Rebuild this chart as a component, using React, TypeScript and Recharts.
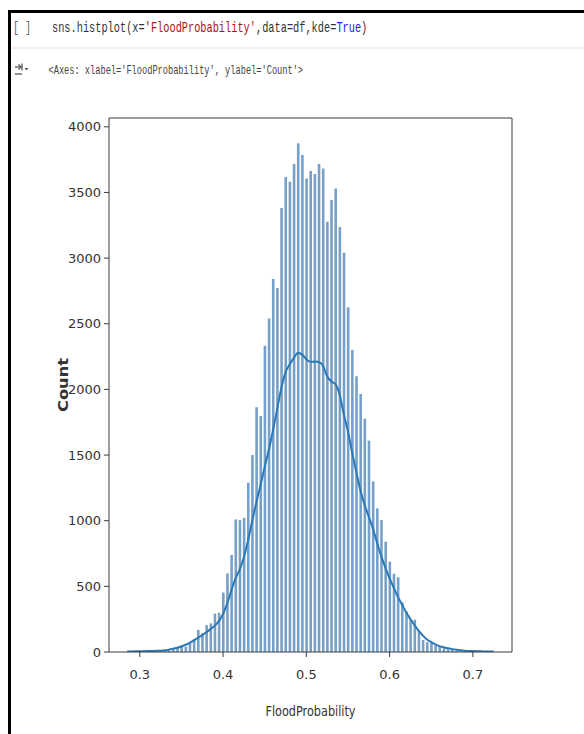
import React from 'react';
import { ComposedChart, Bar, Line, XAxis, YAxis, ReferenceLine } from 'recharts';

const PROB = [
  0.285, 0.29, 0.295, 0.3, 0.305, 0.31, 0.315, 0.32, 0.325, 0.33,
  0.335, 0.34, 0.345, 0.35, 0.355, 0.36, 0.365, 0.37, 0.375, 0.38,
  0.385, 0.39, 0.395, 0.4, 0.405, 0.41, 0.415, 0.42, 0.425, 0.43,
  0.435, 0.44, 0.445, 0.45, 0.455, 0.46, 0.465, 0.47, 0.475, 0.48,
  0.485, 0.49, 0.495, 0.5, 0.505, 0.51, 0.515, 0.52, 0.525, 0.53,
  0.535, 0.54, 0.545, 0.55, 0.555, 0.56, 0.565, 0.57, 0.575, 0.58,
  0.585, 0.59, 0.595, 0.6, 0.605, 0.61, 0.615, 0.62, 0.625, 0.63,
  0.635, 0.64, 0.645, 0.65, 0.655, 0.66, 0.665, 0.67, 0.675, 0.68,
  0.685, 0.69, 0.695, 0.7, 0.705, 0.71, 0.715, 0.72, 0.725,
];

const COUNTS = [
  1, 1, 1, 2, 2, 3, 4, 5, 6, 8,
  12, 20, 30, 50, 40, 78, 99, 168, 142, 205,
  218, 292, 299, 453, 598, 739, 1010, 1004, 1022, 1290,
  1500, 1864, 1797, 2333, 2540, 2841, 2772, 3381, 3617, 3582,
  3717, 3874, 3785, 3607, 3663, 3640, 3717, 3683, 3277, 3442,
  3531, 3236, 3040, 2625, 2300, 2100, 1965, 1777, 1610, 1300,
  1094, 1005, 840, 688, 596, 569, 378, 310, 246, 246,
  160, 91, 75, 70, 50, 45, 28, 20, 18, 8,
  5, 3, 2, 2, 1, 1, 1, 1, 1,
];

const KDE = [
  3, 4, 5, 5, 6, 7, 8, 9, 10, 13,
  18, 24, 32, 42, 55, 70, 88, 108, 128, 150,
  175, 200, 235, 290, 370, 470, 560, 630, 720, 850,
  1000, 1140, 1270, 1410, 1540, 1690, 1850, 2010, 2130, 2190,
  2240, 2280, 2265, 2230, 2210, 2212, 2208, 2180, 2100, 2060,
  2040, 1960, 1810, 1680, 1520, 1370, 1230, 1120, 1030, 940,
  830, 730, 640, 560, 490, 420, 360, 300, 250, 205,
  160, 125, 95, 75, 58, 45, 36, 28, 22, 17,
  13, 10, 8, 7, 6, 5, 4, 4, 3,
];

const X_TICKS = [0.3, 0.4, 0.5, 0.6, 0.7];
const Y_TICKS = [0, 500, 1000, 1500, 2000, 2500, 3000, 3500, 4000];
const X_DOMAIN: [number, number] = [0.263, 0.747];
const Y_DOMAIN: [number, number] = [0, 4067];

const CODE_SEGMENTS = [
  { t: 'sns.histplot(x=', c: '#333' },
  { t: "'FloodProbability'", c: '#a31515' },
  { t: ',data=df,kde=', c: '#333' },
  { t: 'True', c: '#1a1aff' },
  { t: ')', c: '#333' },
];

const data = PROB.map((p, i) => ({ p, count: COUNTS[i], kde: KDE[i] }));

const TICK_STYLE = { fill: '#333', fontSize: 13, fontFamily: 'DejaVu Sans' };
const AXIS_COLOR = '#3c3c3c';

const YLabel = () => (
  <text
    x={63}
    y={385}
    transform="rotate(-90 63 385)"
    textAnchor="middle"
    dominantBaseline="central"
    fontFamily="DejaVu Sans"
    fontWeight="bold"
    fontSize={14}
    fill="#333"
    textLength={54}
    lengthAdjust="spacingAndGlyphs"
  >
    Count
  </text>
);

const XLabel = () => (
  <text
    x={310.5}
    y={711}
    textAnchor="middle"
    dominantBaseline="central"
    fontFamily="DejaVu Sans"
    fontSize={14}
    fill="#333"
    textLength={90}
    lengthAdjust="spacingAndGlyphs"
  >
    FloodProbability
  </text>
);

const MONO = "'Liberation Mono', 'DejaVu Sans Mono', monospace";

export default function App() {
  const adv = 8.4; // 0.6em at 14px
  let idx = 0;
  const segs = CODE_SEGMENTS.map((s) => {
    const x = idx * adv;
    idx += s.t.length;
    return { ...s, x };
  });
  return (
    <div
      style={{
        position: 'absolute',
        left: 0,
        top: 0,
        width: 584,
        height: 734,
        background: '#fff',
        overflow: 'hidden',
      }}
    >
      <div style={{ position: 'absolute', left: 0, top: 0 }}>
        <ComposedChart
          width={584}
          height={734}
          data={data}
          margin={{ top: 118, right: 72, bottom: 52, left: 0 }}
        >
          <XAxis
            dataKey="p"
            type="number"
            domain={X_DOMAIN}
            ticks={X_TICKS}
            allowDataOverflow
            tickFormatter={(v: number) => v.toFixed(1)}
            tick={TICK_STYLE}
            tickSize={5}
            tickMargin={13}
            height={30}
            stroke={AXIS_COLOR}
            label={<XLabel />}
          />
          <YAxis
            type="number"
            domain={Y_DOMAIN}
            ticks={Y_TICKS}
            allowDataOverflow
            tick={TICK_STYLE}
            tickSize={5}
            tickMargin={3}
            width={109}
            stroke={AXIS_COLOR}
            label={<YLabel />}
          />
          <Bar dataKey="count" fill="#76a0c8" barSize={2.6} isAnimationActive={false} />
          <Line
            dataKey="kde"
            type="monotone"
            stroke="#2a78b5"
            strokeWidth={2}
            dot={false}
            isAnimationActive={false}
          />
          <ReferenceLine y={Y_DOMAIN[1]} stroke={AXIS_COLOR} strokeWidth={1} />
          <ReferenceLine x={X_DOMAIN[1]} stroke={AXIS_COLOR} strokeWidth={1} />
        </ComposedChart>
      </div>
      <svg
        width={584}
        height={734}
        style={{ position: 'absolute', left: 0, top: 0, pointerEvents: 'none' }}
      >
        <rect x={8} y={10} width={576} height={3} fill="#000" />
        <rect x={8} y={10} width={3} height={724} fill="#000" />
        <line x1={11} y1={48} x2={584} y2={48} stroke="#e2e2e2" strokeWidth={1} />
        <g transform="translate(13,32) scale(0.72,1)">
          <text x={0} y={0} fontFamily={MONO} fontSize={14} fill="#666">
            [ ]
          </text>
        </g>
        <g transform="translate(52,32) scale(0.736,1)">
          {segs.map((s, i) => (
            <text key={i} x={s.x} y={0} fontFamily={MONO} fontSize={14} fill={s.c}>
              {s.t}
            </text>
          ))}
        </g>
        <g stroke="#555" strokeWidth={1.3} fill="none">
          <line x1={15} y1={67} x2={21} y2={67} />
          <polyline points="18.5,64.5 21,67 18.5,69.5" />
          <line x1={22} y1={63.5} x2={22} y2={70.5} />
          <line x1={15} y1={74} x2={22} y2={74} />
        </g>
        <polygon points="24.5,68 28.5,68 26.5,70.5" fill="#555" />
        <g transform="translate(48.5,74) scale(0.667,1)">
          <text x={0} y={0} fontFamily={MONO} fontSize={13} fill="#444">
            {"<Axes: xlabel='FloodProbability', ylabel='Count'>"}
          </text>
        </g>
      </svg>
    </div>
  );
}
